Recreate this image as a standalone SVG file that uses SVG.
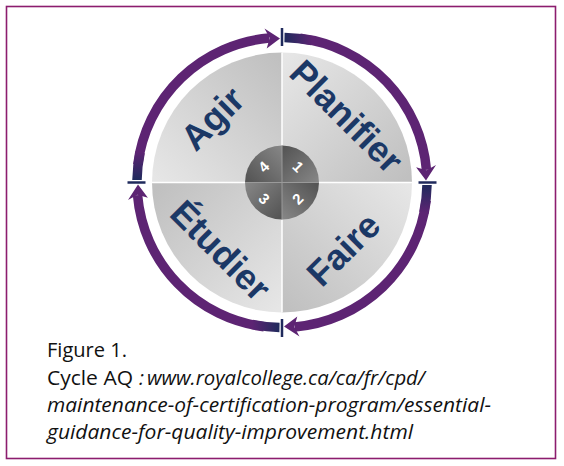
<svg xmlns="http://www.w3.org/2000/svg" width="564" height="466" viewBox="0 0 564 466">
  <defs>
    <linearGradient id="qg" gradientUnits="userSpaceOnUse" x1="282" y1="60" x2="405" y2="180">
      <stop offset="0" stop-color="#e6e6e6"/>
      <stop offset="1" stop-color="#c0c0c0"/>
    </linearGradient>
    <linearGradient id="cg" gradientUnits="userSpaceOnUse" x1="284" y1="148" x2="318" y2="182">
      <stop offset="0" stop-color="#555555"/>
      <stop offset="1" stop-color="#868686"/>
    </linearGradient>
    <linearGradient id="ag" x1="0" y1="0" x2="1" y2="0">
      <stop offset="0" stop-color="#1f2a5c"/>
      <stop offset="1" stop-color="#5d2473"/>
    </linearGradient>
    <style>
      .quad { fill: url(#qg); }
      .cq { fill: url(#cg); }
      .div { stroke: #ffffff; stroke-width: 1.5; }
      .cdiv { stroke: #9a9a9a; stroke-width: 1; }
      .arc { fill: none; stroke: #5d2473; stroke-width: 9.5; }
      .fade { fill: none; stroke: url(#ag); stroke-width: 9.5; }
      .head { fill: #5d2473; }
      .tick { stroke: #1f2a5c; stroke-width: 2.5; }
      .lbl { font-family: "Liberation Sans", Arial, sans-serif; font-weight: bold; font-size: 36px; fill: #1b3866; text-anchor: middle; }
      .num { font-family: "Liberation Sans", Arial, sans-serif; font-weight: bold; font-size: 15px; fill: #ffffff; text-anchor: middle; }
      .cap { font-family: "Open Sans", "Liberation Sans", sans-serif; font-size: 20px; fill: #111111; }
      .it { font-style: italic; }
    </style>
  </defs>

  <rect x="6.5" y="6.5" width="549" height="452" fill="#ffffff" stroke="#8c1d6e" stroke-width="1.6"/>

  <g id="wheel">
    <path class="quad" d="M282,182.5 L282,52.5 A130,130 0 0 1 412,182.5 Z"/>
    <path class="quad" transform="rotate(90 282 182.5)" d="M282,182.5 L282,52.5 A130,130 0 0 1 412,182.5 Z"/>
    <path class="quad" transform="rotate(180 282 182.5)" d="M282,182.5 L282,52.5 A130,130 0 0 1 412,182.5 Z"/>
    <path class="quad" transform="rotate(270 282 182.5)" d="M282,182.5 L282,52.5 A130,130 0 0 1 412,182.5 Z"/>
    <line class="div" x1="282" y1="52.5" x2="282" y2="312.5"/>
    <line class="div" x1="152" y1="182.5" x2="412" y2="182.5"/>
  </g>

  <g id="planifier"><text class="lbl" transform="translate(347 116) rotate(45)" y="13">Planifier</text></g>
  <g id="faire"><text class="lbl" transform="translate(343 249) rotate(-45)" y="13">Faire</text></g>
  <g id="etudier"><text class="lbl" transform="translate(221 250) rotate(45)" y="13">Étudier</text></g>
  <g id="agir"><text class="lbl" transform="translate(212 118) rotate(-45)" y="13">Agir</text></g>

  <g id="hub">
    <path class="cq" d="M282,182.5 L282,145.5 A37,37 0 0 1 319,182.5 Z"/>
    <path class="cq" transform="rotate(90 282 182.5)" d="M282,182.5 L282,145.5 A37,37 0 0 1 319,182.5 Z"/>
    <path class="cq" transform="rotate(180 282 182.5)" d="M282,182.5 L282,145.5 A37,37 0 0 1 319,182.5 Z"/>
    <path class="cq" transform="rotate(270 282 182.5)" d="M282,182.5 L282,145.5 A37,37 0 0 1 319,182.5 Z"/>
    <line class="cdiv" x1="282" y1="145.5" x2="282" y2="219.5"/>
    <line class="cdiv" x1="245" y1="182.5" x2="319" y2="182.5"/>
    <text class="num" transform="translate(298 167) rotate(45)" y="5">1</text>
    <text class="num" transform="translate(298 199) rotate(-45)" y="5">2</text>
    <text class="num" transform="translate(264 199) rotate(45)" y="5">3</text>
    <text class="num" transform="translate(264 167) rotate(-45)" y="5">4</text>
  </g>

  <g id="connectors">
    <g>
      <path class="arc" d="M300,38.3 A145,145 0 0 1 426.45,169.86"/>
      <path class="fade" d="M284.5,37.5 A145,145 0 0 1 312.15,40.67"/>
      <polygon class="head" points="426,180.5 416.1,167.2 426.5,170.2 436,165"/>
      <line class="tick" x1="282" y1="28" x2="282" y2="46"/>
    </g>
    <g transform="rotate(90 282 182.5)">
      <path class="arc" d="M300,38.3 A145,145 0 0 1 426.45,169.86"/>
      <path class="fade" d="M284.5,37.5 A145,145 0 0 1 312.15,40.67"/>
      <polygon class="head" points="426,180.5 416.1,167.2 426.5,170.2 436,165"/>
      <line class="tick" x1="282" y1="28" x2="282" y2="46"/>
    </g>
    <g transform="rotate(180 282 182.5)">
      <path class="arc" d="M300,38.3 A145,145 0 0 1 426.45,169.86"/>
      <path class="fade" d="M284.5,37.5 A145,145 0 0 1 312.15,40.67"/>
      <polygon class="head" points="426,180.5 416.1,167.2 426.5,170.2 436,165"/>
      <line class="tick" x1="282" y1="28" x2="282" y2="46"/>
    </g>
    <g transform="rotate(270 282 182.5)">
      <path class="arc" d="M300,38.3 A145,145 0 0 1 426.45,169.86"/>
      <path class="fade" d="M284.5,37.5 A145,145 0 0 1 312.15,40.67"/>
      <polygon class="head" points="426,180.5 416.1,167.2 426.5,170.2 436,165"/>
      <line class="tick" x1="282" y1="28" x2="282" y2="46"/>
    </g>
  </g>

  <g id="caption">
    <text class="cap" x="47" y="357" textLength="80" lengthAdjust="spacingAndGlyphs">Figure 1.</text>
    <text class="cap" x="47" y="385" textLength="86" lengthAdjust="spacingAndGlyphs">Cycle AQ</text>
    <text class="cap it" x="139" y="385">:</text>
    <text class="cap it" x="147" y="385" textLength="278" lengthAdjust="spacingAndGlyphs">www.royalcollege.ca/ca/fr/cpd/</text>
    <text class="cap it" x="47" y="412" textLength="444" lengthAdjust="spacingAndGlyphs">maintenance-of-certification-program/essential-</text>
    <text class="cap it" x="47" y="439" textLength="366" lengthAdjust="spacingAndGlyphs">guidance-for-quality-improvement.html</text>
  </g>
</svg>
